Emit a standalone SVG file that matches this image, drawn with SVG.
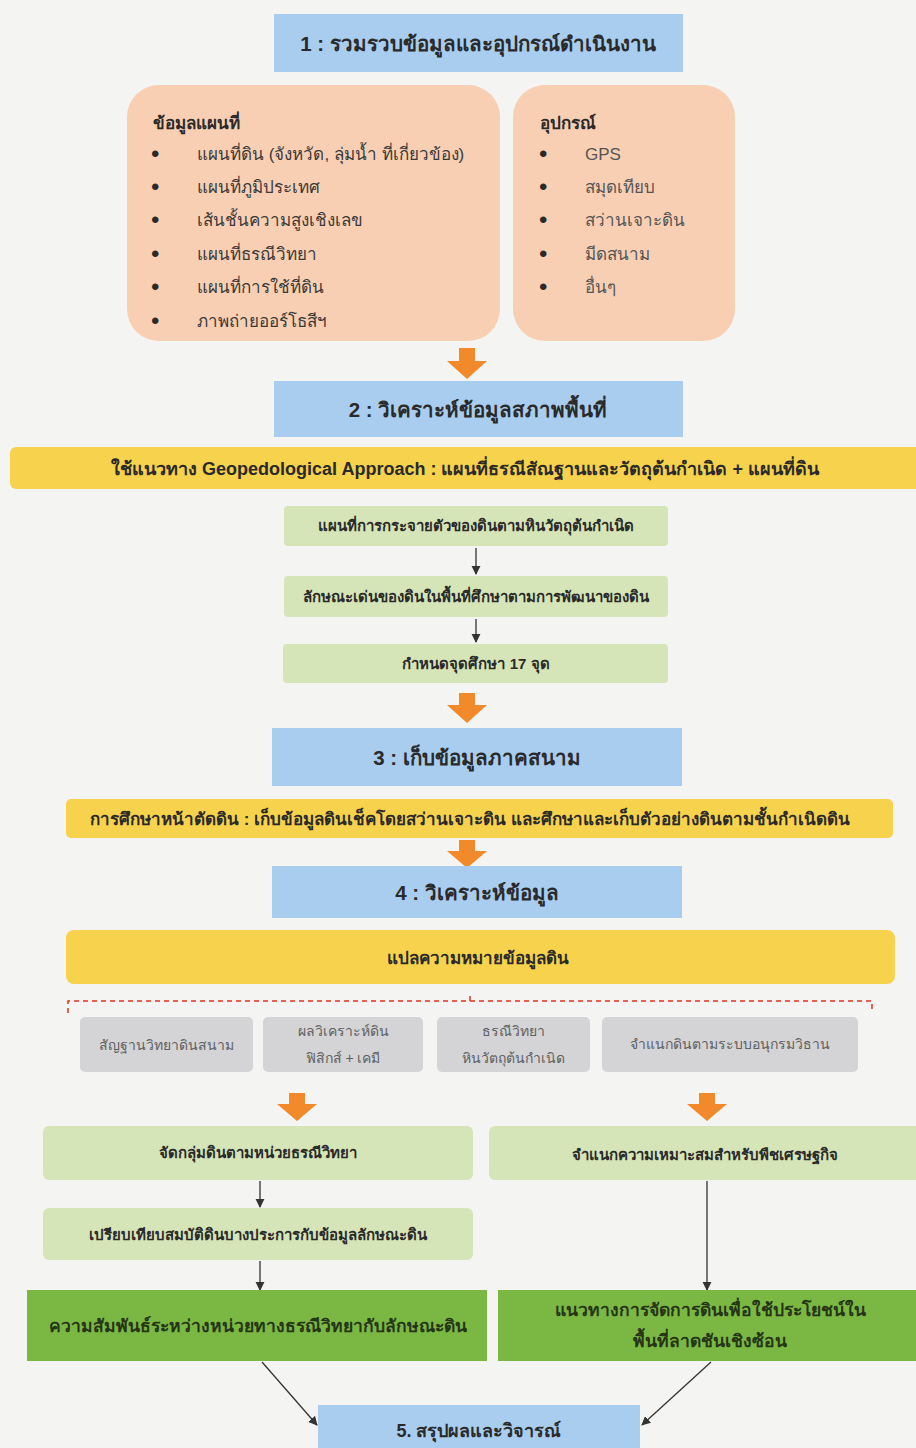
<svg xmlns="http://www.w3.org/2000/svg" width="916" height="1448" viewBox="0 0 916 1448">
<defs>
<style>
text{font-family:"Liberation Sans","Noto Sans","DejaVu Sans",sans-serif;fill:#2a2a2a;text-anchor:middle}
.h{font-size:20.5px;font-weight:bold}
.h5{font-size:18px;font-weight:bold}
.lh{font-size:17px;font-weight:bold;text-anchor:start}
.li{font-size:17px;text-anchor:start;fill:#3a3a3a}
.ri{font-size:17px;text-anchor:start;fill:#555}
.b{font-size:24px;text-anchor:start;fill:#2a2a2a}
.y{font-size:17px;font-weight:bold}
.y1{font-size:18px;font-weight:bold}
.g{font-size:15px;font-weight:bold}
.gr{font-size:14px;fill:#606060}
.dg{font-size:17.5px;font-weight:bold;fill:#253515}
.blue{fill:#a8cdef}
.peach{fill:#f8cfb3}
.yel{fill:#f7d24c}
.lg{fill:#d5e5b7}
.gray{fill:#d4d4d6}
.dk{fill:#7bb843}
.oa{fill:#f28a2c}
.ln{stroke:#333;stroke-width:1.3;fill:none;marker-end:url(#ah)}
</style>
<marker id="ah" viewBox="0 0 10 10" refX="9" refY="5" markerWidth="7" markerHeight="7" orient="auto"><path d="M0,0 L10,5 L0,10 z" fill="#333"/></marker>
</defs>
<rect width="916" height="1448" fill="#f4f4f2"/>

<g id="connectors">
<path class="oa" d="M459,348 h16 v13 h12 l-20,18 l-20,-18 h12 z"/>
<path class="oa" d="M459,693 h16 v12 h12 l-20,18 l-20,-18 h12 z"/>
<path class="oa" d="M459,840 h16 v11 h12 l-20,17 l-20,-17 h12 z"/>
<path class="oa" d="M289,1093 h16 v11 h12 l-20,17 l-20,-17 h12 z"/>
<path class="oa" d="M699,1093 h16 v11 h12 l-20,17 l-20,-17 h12 z"/>
<line class="ln" x1="476" y1="548" x2="476" y2="574"/>
<line class="ln" x1="476" y1="619" x2="476" y2="642"/>
<line class="ln" x1="260" y1="1181" x2="260" y2="1207"/>
<line class="ln" x1="260" y1="1261" x2="260" y2="1290"/>
<line class="ln" x1="707" y1="1181" x2="707" y2="1290"/>
<line class="ln" x1="262" y1="1362" x2="317" y2="1425"/>
<line class="ln" x1="711" y1="1362" x2="642" y2="1425"/>
<path d="M68,1013 V1001 H872 V1013 M470,1001 V993" stroke="#e03020" stroke-width="1.5" stroke-dasharray="5,4" fill="none"/>
</g>

<g id="n1"><rect class="blue" x="274" y="14" width="409" height="58"/><text class="h" x="478" y="51">1 : รวมรวบข้อมูลและอุปกรณ์ดำเนินงาน</text></g>

<g id="n-map">
<rect class="peach" x="127" y="85" width="373" height="256" rx="32"/>
<text class="lh" x="153" y="129">ข้อมูลแผนที่</text>
<text class="b" x="151" y="162">•</text><text class="li" x="197" y="160">แผนที่ดิน (จังหวัด, ลุ่มน้ำ ที่เกี่ยวข้อง)</text>
<text class="b" x="151" y="195">•</text><text class="li" x="197" y="193">แผนที่ภูมิประเทศ</text>
<text class="b" x="151" y="228">•</text><text class="li" x="197" y="226">เส้นชั้นความสูงเชิงเลข</text>
<text class="b" x="151" y="262">•</text><text class="li" x="197" y="260">แผนที่ธรณีวิทยา</text>
<text class="b" x="151" y="295">•</text><text class="li" x="197" y="293">แผนที่การใช้ที่ดิน</text>
<text class="b" x="151" y="329">•</text><text class="li" x="197" y="327">ภาพถ่ายออร์โธสีฯ</text>
</g>

<g id="n-equip">
<rect class="peach" x="513" y="85" width="222" height="256" rx="32"/>
<text class="lh" x="540" y="129">อุปกรณ์</text>
<text class="b" x="539" y="162">•</text><text class="ri" x="585" y="160">GPS</text>
<text class="b" x="539" y="195">•</text><text class="ri" x="585" y="193">สมุดเทียบ</text>
<text class="b" x="539" y="228">•</text><text class="ri" x="585" y="226">สว่านเจาะดิน</text>
<text class="b" x="539" y="262">•</text><text class="ri" x="585" y="260">มีดสนาม</text>
<text class="b" x="539" y="295">•</text><text class="ri" x="585" y="293">อื่นๆ</text>
</g>

<g id="n2"><rect class="blue" x="274" y="381" width="409" height="56"/><text class="h" x="478" y="417">2 : วิเคราะห์ข้อมูลสภาพพื้นที่</text></g>

<g id="y1"><rect class="yel" x="10" y="447" width="916" height="42" rx="6"/><text class="y1" x="465" y="475">ใช้แนวทาง Geopedological Approach : แผนที่ธรณีสัณฐานและวัตถุต้นกำเนิด  + แผนที่ดิน</text></g>

<g id="g1"><rect class="lg" x="284" y="506" width="384" height="40" rx="4"/><text class="g" x="476" y="531">แผนที่การกระจายตัวของดินตามหินวัตถุต้นกำเนิด</text></g>
<g id="g2"><rect class="lg" x="284" y="576" width="384" height="41" rx="4"/><text class="g" x="476" y="602">ลักษณะเด่นของดินในพื้นที่ศึกษาตามการพัฒนาของดิน</text></g>
<g id="g3"><rect class="lg" x="283" y="644" width="385" height="39" rx="4"/><text class="g" x="476" y="669">กำหนดจุดศึกษา 17 จุด</text></g>

<g id="n3"><rect class="blue" x="272" y="728" width="410" height="58"/><text class="h" x="477" y="765">3 : เก็บข้อมูลภาคสนาม</text></g>

<g id="y2"><rect class="yel" x="66" y="799" width="827" height="39" rx="5"/><text class="y" x="470" y="825">การศึกษาหน้าตัดดิน  : เก็บข้อมูลดินเช็คโดยสว่านเจาะดิน และศึกษาและเก็บตัวอย่างดินตามชั้นกำเนิดดิน</text></g>

<g id="n4"><rect class="blue" x="272" y="866" width="410" height="52"/><text class="h" x="477" y="900">4 : วิเคราะห์ข้อมูล</text></g>

<g id="y3"><rect class="yel" x="66" y="930" width="829" height="54" rx="8"/><text class="y" x="478" y="964">แปลความหมายข้อมูลดิน</text></g>

<g id="c1"><rect class="gray" x="80" y="1017" width="173" height="55" rx="5"/><text class="gr" x="166" y="1050">สัญฐานวิทยาดินสนาม</text></g>
<g id="c2"><rect class="gray" x="263" y="1017" width="160" height="55" rx="5"/><text class="gr" x="343" y="1036">ผลวิเคราะห์ดิน</text><text class="gr" x="343" y="1063">ฟิสิกส์ + เคมี</text></g>
<g id="c3"><rect class="gray" x="437" y="1017" width="153" height="55" rx="5"/><text class="gr" x="513" y="1036">ธรณีวิทยา</text><text class="gr" x="513" y="1063">หินวัตถุต้นกำเนิด</text></g>
<g id="c4"><rect class="gray" x="602" y="1017" width="256" height="55" rx="5"/><text class="gr" x="730" y="1049">จำแนกดินตามระบบอนุกรมวิธาน</text></g>

<g id="l1"><rect class="lg" x="43" y="1126" width="430" height="54" rx="6"/><text class="g" x="258" y="1158">จัดกลุ่มดินตามหน่วยธรณีวิทยา</text></g>
<g id="r1"><rect class="lg" x="489" y="1126" width="440" height="54" rx="6"/><text class="g" x="705" y="1160">จำแนกความเหมาะสมสำหรับพืชเศรษฐกิจ</text></g>
<g id="l2"><rect class="lg" x="43" y="1208" width="430" height="52" rx="6"/><text class="g" x="258" y="1240">เปรียบเทียบสมบัติดินบางประการกับข้อมูลลักษณะดิน</text></g>

<g id="d1"><rect class="dk" x="27" y="1290" width="460" height="71"/><text class="dg" x="258" y="1332">ความสัมพันธ์ระหว่างหน่วยทางธรณีวิทยากับลักษณะดิน</text></g>
<g id="d2"><rect class="dk" x="498" y="1290" width="418" height="71"/><text class="dg" x="710" y="1316">แนวทางการจัดการดินเพื่อใช้ประโยชน์ใน</text><text class="dg" x="710" y="1347">พื้นที่ลาดชันเชิงซ้อน</text></g>

<g id="n5"><rect class="blue" x="318" y="1405" width="322" height="43"/><text class="h5" x="479" y="1437">5. สรุปผลและวิจารณ์</text></g>
</svg>
